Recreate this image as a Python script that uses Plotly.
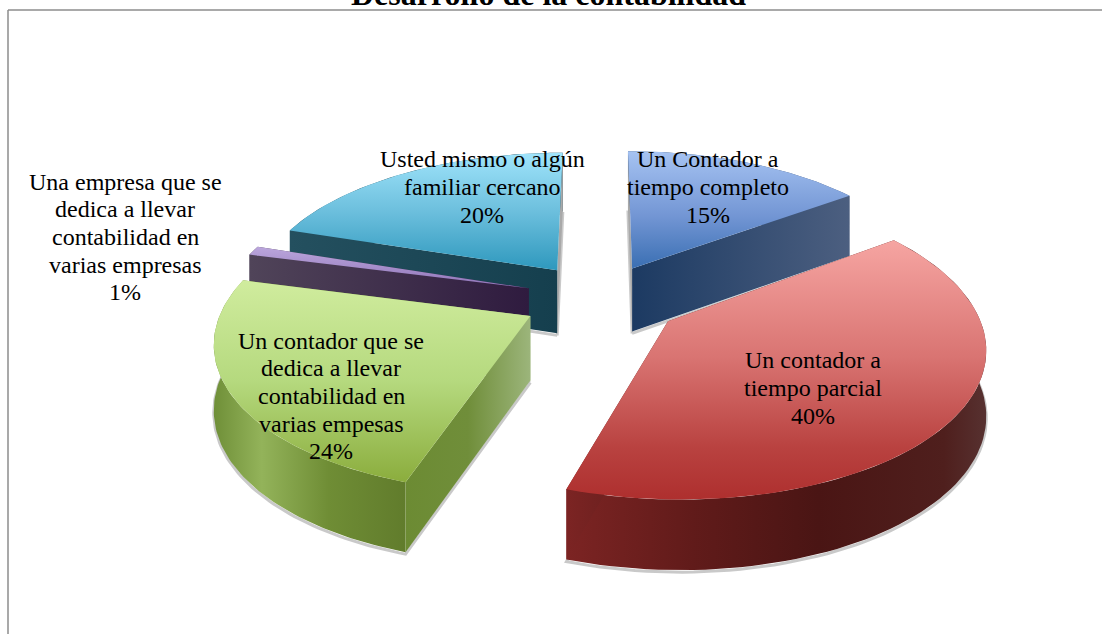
import numpy as np
import plotly.graph_objects as go

# ---- data -------------------------------------------------------------
title = "Desarrollo de la contabilidad"
categories = [
    ["Un Contador a", "tiempo completo"],
    ["Un contador a", "tiempo parcial"],
    ["Un contador que se", "dedica a llevar", "contabilidad en", "varias empesas"],
    ["Una empresa que se", "dedica a llevar", "contabilidad en", "varias empresas"],
    ["Usted mismo o algún", "familiar cercano"],
]
values = [15, 40, 24, 1, 20]

# ---- styles ------------------------------------------------------------
top_colors = [
    [[0, "#a6c3f2"], [0.55, "#7396d4"], [1, "#3a6fb3"]],
    [[0, "#f6a5a2"], [0.45, "#d97472"], [0.8, "#b94240"], [1, "#ae2f2e"]],
    [[0, "#d0ec9e"], [0.5, "#b5d97e"], [1, "#8bad3d"]],
    [[0, "#bba6dc"], [1, "#8f74b8"]],
    [[0, "#a0e4fb"], [0.5, "#6cbfdd"], [1, "#2e98bd"]],
]
arc_wall_colors = [
    [[0, "#1d3b63"], [1, "#4d6082"]],
    [[0, "#7c2423"], [0.3, "#611b1a"], [0.6, "#4a1514"], [0.9, "#4f1f1d"], [1, "#573130"]],
    [[0, "#6f8f38"], [0.25, "#93b35a"], [0.6, "#6f8d35"], [1, "#617c2c"]],
    [[0, "#504459"], [1, "#2f1b3f"]],
    [[0, "#24505f"], [1, "#153f4e"]],
]
GREY_EDGE = [[0, "#a9a9a9"], [1, "#a9a9a9"]]
radial_start_colors = [
    GREY_EDGE,
    [[0, "#7c2423"], [1, "#5a1c1b"]],
    [[0, "#6c8b33"], [0.5, "#708e3a"], [1, "#9cb57b"]],
    [[0, "#504459"], [1, "#2f1b3f"]],
    [[0, "#24505f"], [1, "#153f4e"]],
]
radial_end_colors = [
    [[0, "#1c3a62"], [1, "#4c5f80"]],
    [[0, "#7c2423"], [1, "#5a1c1b"]],
    [[0, "#6c8b33"], [0.5, "#708e3a"], [1, "#9cb57b"]],
    [[0, "#504459"], [1, "#2f1b3f"]],
    GREY_EDGE,
]
label_x = [708, 813, 331, 125, 482]
label_y = [187, 388, 396, 237, 187]
LINE_STEP = 27.6

CX, CY = 600, 298       # pie centre
RADIUS = 305
EXPLODE = [73, 82, 78, 75, 75]
SQUASH, DEPTH, PERSP = 0.47, 64, 2000


def project(px, py, z=0.0):
    s = 1 / (1 - py / PERSP)
    return CX + px * s, CY + SQUASH * py * s + z * DEPTH * np.sqrt(s)


def flip(scale):
    return [[1 - p, c] for p, c in reversed(scale)]


def add_poly(fig, xs, ys, colors, kind):
    xs, ys = list(xs), list(ys)
    fig.add_trace(go.Scatter(
        x=xs + xs[:1], y=ys + ys[:1], mode="lines", fill="toself",
        line=dict(width=0.5, color="rgba(0,0,0,0)"),
        fillgradient=dict(type=kind, colorscale=colors),
        hoverinfo="skip", showlegend=False))


def add_shadow(fig, xs, ys):
    fig.add_trace(go.Scatter(
        x=list(xs), y=[v + 2 for v in ys], mode="lines",
        line=dict(width=3, color="rgba(120,120,120,0.4)"),
        hoverinfo="skip", showlegend=False))


fig = go.Figure()
fractions = np.array(values) / sum(values)
edges = np.concatenate([[0], np.cumsum(fractions)]) * 2 * np.pi

for i in [0, 4, 3, 2, 1]:
    a0, a1 = edges[i], edges[i + 1]
    mid = (a0 + a1) / 2
    ox, oy = EXPLODE[i] * np.sin(mid), -EXPLODE[i] * np.cos(mid)
    th = np.linspace(a0, a1, 80)
    rx, ry = ox + RADIUS * np.sin(th), oy - RADIUS * np.cos(th)

    ax_t, ay_t = project(ox, oy, 0)
    ax_b, ay_b = project(ox, oy, 1)
    tx, ty = project(rx, ry, 0)
    bx, by = project(rx, ry, 1)

    walls = [
        (np.r_[tx, bx[::-1]], np.r_[ty, by[::-1]], arc_wall_colors[i]),
        ([ax_t, tx[0], bx[0], ax_b], [ay_t, ty[0], by[0], ay_b], radial_start_colors[i]),
        ([ax_t, tx[-1], bx[-1], ax_b], [ay_t, ty[-1], by[-1], ay_b], radial_end_colors[i]),
    ]
    add_shadow(fig, np.r_[ax_b, bx, ax_b], np.r_[ay_b, by, ay_b])
    for wx, wy, wc in sorted(walls, key=lambda w: np.mean(w[1])):
        add_poly(fig, wx, wy, wc, "horizontal")
    add_poly(fig, np.r_[ax_t, tx], np.r_[ay_t, ty], flip(top_colors[i]), "vertical")

for lines, val, lx, ly in zip(categories, values, label_x, label_y):
    rows = lines + [f"{val}%"]
    for k, row in enumerate(rows):
        fig.add_annotation(x=lx, y=ly + (k - (len(rows) - 1) / 2) * LINE_STEP, text=row,
                           showarrow=False,
                           font=dict(family="Liberation Serif", size=24, color="#000000"),
                           xanchor="center", yanchor="middle")

fig.add_annotation(x=548, y=10, text=f"<b>{title}</b>", showarrow=False,
                   font=dict(family="Liberation Serif", size=32, color="#000000"),
                   xanchor="center", yanchor="bottom", yshift=-4)

frame = dict(type="line", line=dict(color="#8c8c8c", width=1.5), layer="below")
fig.add_shape(x0=8, x1=1102, y0=10, y1=10, **frame)
fig.add_shape(x0=8, x1=8, y0=10, y1=634, **frame)

fig.update_layout(
    width=1102, height=634,
    margin=dict(l=0, r=0, t=0, b=0),
    paper_bgcolor="white", plot_bgcolor="white",
    showlegend=False,
    xaxis=dict(range=[0, 1102], visible=False, fixedrange=True),
    yaxis=dict(range=[634, 0], visible=False, fixedrange=True),
)
fig.write_html("out.html", config=dict(displayModeBar=False),
               post_script="document.body.style.margin='0';document.body.style.overflow='hidden';")
